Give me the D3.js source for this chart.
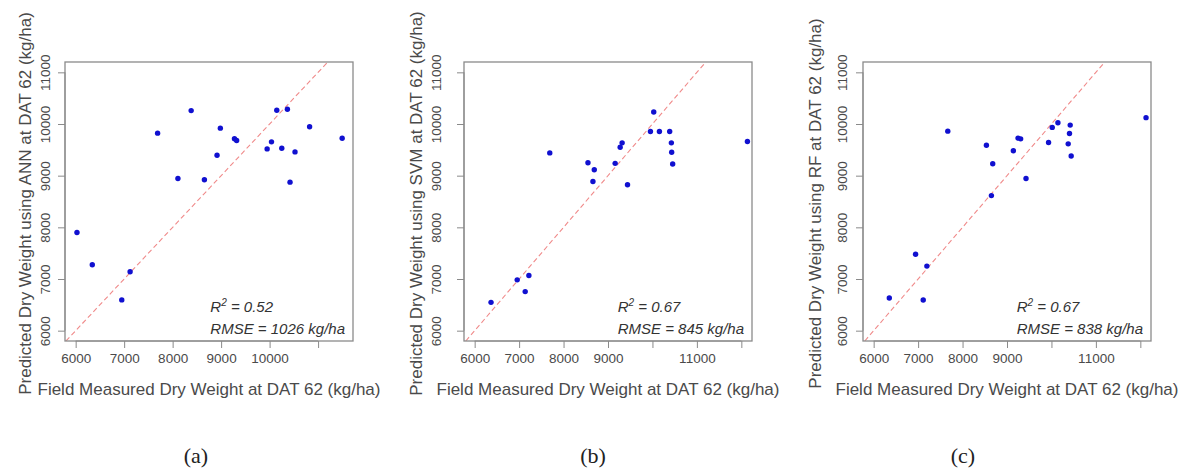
<!DOCTYPE html>
<html>
<head>
<meta charset="utf-8">
<script src="https://cdn.jsdelivr.net/npm/d3@7"></script>
<style>
  body { margin: 0; background: #fff; }
  svg { display: block; }
</style>
</head>
<body>
<svg id="chart" width="1187" height="472"></svg>
<script>
// Measured vs predicted dry weight, three models

var annX = [6027, 6343, 6951, 7123, 7690, 8109, 8382, 8655, 8916, 8984, 9275, 9320, 9949, 10039, 10148, 10251, 10367, 10421, 10524, 10825, 11497];
var annY = [7900, 7277, 6595, 7140, 9823, 8946, 10259, 8920, 9394, 9920, 9715, 9680, 9518, 9655, 10265, 9531, 10285, 8875, 9460, 9947, 9725];

var svmX = [6368, 6957, 7137, 7220, 7690, 8549, 8691, 8661, 9161, 9274, 9318, 9439, 9955, 10029, 10157, 10388, 10426, 10433, 10455, 12137];
var svmY = [6548, 6984, 6756, 7068, 9441, 9251, 9115, 8887, 9238, 9550, 9635, 8823, 9856, 10232, 9856, 9856, 9635, 9452, 9226, 9660];

var rfX = [6352, 6943, 7115, 7197, 7668, 8537, 8679, 8649, 9143, 9248, 9307, 9428, 9935, 10018, 10146, 10377, 10406, 10422, 10444, 12128];
var rfY = [6633, 7478, 6594, 7250, 9862, 9589, 9232, 8614, 9481, 9727, 9713, 8946, 9641, 9934, 10025, 9616, 9817, 9979, 9382, 10123];

var yTicks = [6000, 7000, 8000, 9000, 10000, 11000];
var xTicksA = [6000, 7000, 8000, 9000, 10000, 11000];
var xLabelsA = ["6000", "7000", "8000", "9000", "10000", ""];
var xTicksBC = [6000, 7000, 8000, 9000, 10000, 11000, 12000];
var xLabelsBC = ["6000", "7000", "8000", "9000", "", "11000", ""];

var panels = [
    { x: annX, y: annY, model: "ANN", r2: "0.52", rmse: "1026", tag: "(a)",
      left: 65, right: 353, xDom: [5780, 11720], ticks: xTicksA, labels: xLabelsA,
      yTickX: 45, yLabX: 25, tagX: 196 },
    { x: svmX, y: svmY, model: "SVM", r2: "0.67", rmse: "845", tag: "(b)",
      left: 464, right: 752, xDom: [5760, 12240], ticks: xTicksBC, labels: xLabelsBC,
      yTickX: 436, yLabX: 416, tagX: 593 },
    { x: rfX, y: rfY, model: "RF", r2: "0.67", rmse: "838", tag: "(c)",
      left: 863, right: 1151, xDom: [5760, 12240], ticks: xTicksBC, labels: xLabelsBC,
      yTickX: 842, yLabX: 815, tagX: 963 }
];

var plotTop = 62, plotBottom = 341;
var yDom = [5800, 11200];
var svg = d3.select("#chart");
var textCol = "#4a4a4a";
var font = "'Liberation Sans', Arial, sans-serif";

panels.forEach(function (p, k) {
    let xScale = d3.scaleLinear().domain(p.xDom).range([p.left, p.right]);
    let yScale = d3.scaleLinear().domain(yDom).range([plotBottom, plotTop]);
    let g = svg.append("g");

    // clip for the 1:1 line
    svg.append("clipPath").attr("id", "clip" + k)
      .append("rect")
        .attr("x", p.left).attr("y", plotTop)
        .attr("width", p.right - p.left).attr("height", plotBottom - plotTop);

    let lo = Math.max(p.xDom[0], yDom[0]);
    let hi = Math.min(p.xDom[1], yDom[1]);
    g.append("line")
        .attr("clip-path", "url(#clip" + k + ")")
        .attr("x1", xScale(lo)).attr("y1", yScale(lo))
        .attr("x2", xScale(hi)).attr("y2", yScale(hi))
        .style("stroke", "#f08a8a")
        .style("stroke-width", 1.1)
        .style("stroke-dasharray", "5,3");

    // points
    g.selectAll("circle")
        .data(d3.range(p.x.length))
        .enter()
      .append("circle")
        .attr("cx", function (i) { return xScale(p.x[i]); })
        .attr("cy", function (i) { return yScale(p.y[i]); })
        .attr("r", 2.7)
        .style("fill", "#1010d0");

    // box
    g.append("rect")
        .attr("x", p.left).attr("y", plotTop)
        .attr("width", p.right - p.left).attr("height", plotBottom - plotTop)
        .style("fill", "none")
        .style("stroke", "#8a8a8a")
        .style("stroke-width", 1.3);

    // x axis
    let xAxis = d3.axisBottom(xScale)
        .tickValues(p.ticks)
        .tickSize(7)
        .tickPadding(5)
        .tickFormat(function (d, i) { return p.labels[i]; });
    let xg = g.append("g").attr("transform", "translate(0," + plotBottom + ")").call(xAxis);
    xg.select(".domain")
        .attr("d", "M" + xScale(p.ticks[0]) + ",0H" + xScale(p.ticks[p.ticks.length - 1]))
        .style("stroke", "#8a8a8a");
    xg.selectAll(".tick line").style("stroke", "#8a8a8a");
    xg.selectAll(".tick text")
        .attr("font-size", 13.5).attr("font-family", font).attr("fill", textCol);

    // y axis
    let yAxis = d3.axisLeft(yScale).tickValues(yTicks).tickSize(7).tickFormat(d3.format("d"));
    let yg = g.append("g").attr("transform", "translate(" + p.left + ",0)").call(yAxis);
    yg.select(".domain")
        .attr("d", "M0," + yScale(6000) + "V" + yScale(11000))
        .style("stroke", "#8a8a8a");
    yg.selectAll(".tick line").style("stroke", "#8a8a8a");
    yg.selectAll(".tick text")
        .attr("x", null).attr("dy", null)
        .attr("text-anchor", "middle")
        .attr("dominant-baseline", "central")
        .attr("transform", "translate(" + (p.yTickX - p.left) + ",0) rotate(-90)")
        .attr("font-size", 13.5).attr("font-family", font).attr("fill", textCol);

    // axis titles
    g.append("text")
        .attr("x", (p.left + p.right) / 2)
        .attr("y", 389)
        .attr("text-anchor", "middle")
        .attr("dominant-baseline", "central")
        .attr("font-size", 17).attr("font-family", font).attr("fill", textCol)
        .text("Field Measured Dry Weight at DAT 62 (kg/ha)");
    g.append("text")
        .attr("transform", "translate(" + p.yLabX + "," + ((plotTop + plotBottom) / 2 + 2) + ") rotate(-90)")
        .attr("text-anchor", "middle")
        .attr("dominant-baseline", "central")
        .attr("font-size", 17).attr("font-family", font).attr("fill", textCol)
        .text("Predicted Dry Weight using " + p.model + " at DAT 62 (kg/ha)");

    // stats annotation
    let ann = g.append("text")
        .attr("y", 312)
        .attr("font-size", 15).attr("font-family", font)
        .attr("font-style", "italic").attr("fill", "#333");
    let ann2 = g.append("text")
        .attr("x", p.right - 8)
        .attr("y", 334)
        .attr("text-anchor", "end")
        .attr("font-size", 15).attr("font-family", font)
        .attr("font-style", "italic").attr("fill", "#333")
        .text("RMSE = " + p.rmse + " kg/ha");
    let w2 = ann2.node().getComputedTextLength();
    ann.attr("x", p.right - 8 - w2);
    ann.append("tspan").text("R");
    ann.append("tspan").attr("font-size", 10).attr("dy", -6).text("2");
    ann.append("tspan").attr("dy", 6).text(" = " + p.r2);

    // panel tag
    svg.append("text")
        .attr("x", p.tagX)
        .attr("y", 455)
        .attr("text-anchor", "middle")
        .attr("dominant-baseline", "central")
        .attr("font-size", 22)
        .attr("font-family", "'Liberation Serif', 'DejaVu Serif', serif")
        .attr("fill", "#222")
        .text(p.tag);
});
</script>
</body>
</html>
